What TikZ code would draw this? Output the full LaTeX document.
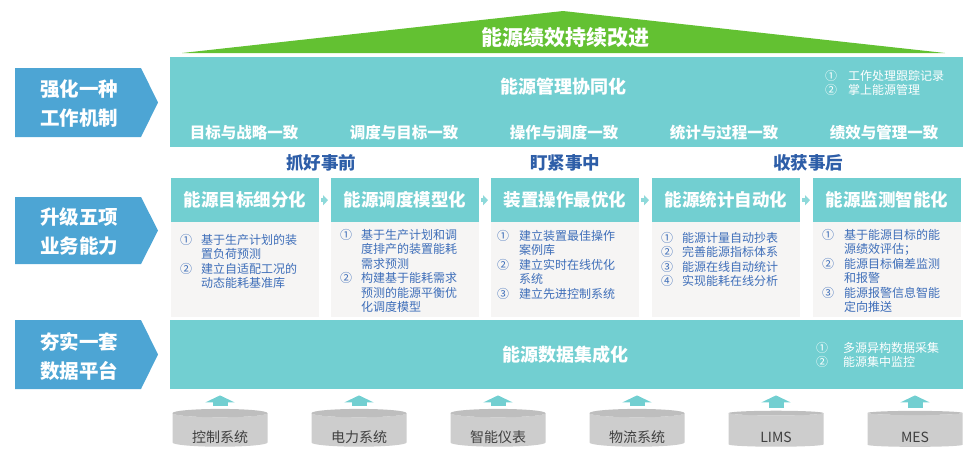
\documentclass[tikz,border=0pt]{standalone}
\usepackage{fontspec}
\setmainfont{Noto Sans CJK SC}
\definecolor{mintteal}{RGB}{114,207,209}
\definecolor{skyblue}{RGB}{77,165,212}
\definecolor{leafgreen}{RGB}{99,193,50}
\definecolor{stagenavy}{RGB}{46,94,168}
\definecolor{itemblue}{RGB}{62,110,185}
\definecolor{paper}{RGB}{246,245,244}
\definecolor{drumside}{RGB}{205,205,205}
\definecolor{drumtop}{RGB}{190,190,190}
\definecolor{drumtext}{RGB}{64,64,64}
\usetikzlibrary{arrows.meta, positioning, calc, shapes.geometric}

\begin{document}
\begin{tikzpicture}[
  x=1pt, y=-1pt,
  tbox/.style={fill=mintteal, inner sep=0pt, anchor=north west},
  hdbox/.style={fill=mintteal, inner sep=0pt, anchor=north west, minimum width=148pt, minimum height=44pt, text=white, font=\fontsize{17.5}{20}\selectfont\bfseries},
  bodybox/.style={fill=paper, inner sep=0pt, anchor=north west, minimum width=148pt, minimum height=95pt},
  itemtxt/.style={inner sep=0pt, anchor=north west, text=itemblue, font=\fontsize{12}{14.5}\selectfont},
  wlist/.style={inner sep=0pt, anchor=north west, text=white, font=\fontsize{12}{14.5}\selectfont},
  boxtitle/.style={text=white, font=\fontsize{18}{20}\selectfont\bfseries},
  subtitle/.style={text=white, font=\fontsize{15.5}{18}\selectfont\bfseries},
  stage/.style={text=stagenavy, font=\fontsize{17.5}{20}\selectfont\bfseries},
  sidetxt/.style={text=white, align=center, font=\fontsize{19.5}{29}\selectfont\bfseries},
  rooftxt/.style={text=white, font=\fontsize{21}{24}\selectfont\bfseries},
  chev/.style={draw=mintteal!80, line width=4pt, -{Triangle[width=10pt,length=5pt]}, shorten <=2pt, shorten >=3pt},
  uparr/.style={draw=mintteal, line width=15pt, -{Triangle[width=29pt,length=7pt]}, shorten <=3pt, shorten >=6pt},
  drum/.style={cylinder, shape border rotate=90, aspect=0.15, minimum width=95pt, minimum height=36pt, cylinder uses custom fill, cylinder body fill=drumside, cylinder end fill=drumtop, inner sep=0pt, text height=25pt, text depth=0pt, text=drumtext, font=\fontsize{14}{16}\selectfont}
]
\useasboundingbox (0,0) rectangle (979,459);

% roof
\fill[leafgreen] (182,53) -- (563,11) -- (945,53) -- cycle;
\node[rooftxt] (roof) at (565,38) {能源绩效持续改进};

% left labels
\foreach \yt/\yb/\txt [count=\i] in {68/137/{强化一种\\工作机制}, 197/264/{升级五项\\业务能力}, 320/389/{夯实一套\\数据平台}} {
  \fill[skyblue] (15,\yt) -- (141,\yt) -- (158,{(\yt+\yb)/2}) -- (141,\yb) -- (15,\yb) -- cycle;
  \node[sidetxt] (side\i) at (79,{(\yt+\yb)/2+1.5}) {\txt};
}

% management layer
\node[tbox, minimum width=793pt, minimum height=90pt] (mgmt) at (170,57) {};
\node[boxtitle] (mgmtname) at (563,87) {能源管理协同化};
\node[wlist] (mgmtlist) at (825,70) {\begin{tabular}{@{}p{23pt}@{}l@{}}
① & 工作处理跟踪记录\\
② & 掌上能源管理
\end{tabular}};
\foreach \t [count=\i] in {目标与战略一致, 调度与目标一致, 操作与调度一致, 统计与过程一致, 绩效与管理一致}
  \node[subtitle] (aim\i) at ({84+160*\i},133) {\t};

% stages
\node[stage] (before) at (321,163) {抓好事前};
\node[stage] (during) at (565,163) {盯紧事中};
\node[stage] (after) at (808,163) {收获事后};

\foreach \x/\t [count=\i] in {171/能源目标细分化, 331/能源调度模型化, 491/装置操作最优化, 652/能源统计自动化, 813/能源监测智能化} {
  \node[bodybox] (bd\i) at (\x,222) {};
  \node[hdbox] (hd\i) at (\x,178) {\t};
}
\foreach \i/\j in {1/2, 2/3, 3/4, 4/5}
  \draw[chev] (hd\i.east) -- (hd\j.west);

\node[itemtxt] (items1) at (180,234) {\begin{tabular}{@{}p{21pt}@{}l@{}}
① & 基于生产计划的装\\
 & 置负荷预测\\
② & 建立自适配工况的\\
 & 动态能耗基准库
\end{tabular}};
\node[itemtxt] (items2) at (340,229) {\begin{tabular}{@{}p{21pt}@{}l@{}}
① & 基于生产计划和调\\
 & 度排产的装置能耗\\
 & 需求预测\\
② & 构建基于能耗需求\\
 & 预测的能源平衡优\\
 & 化调度模型
\end{tabular}};
\node[itemtxt] (items3) at (497,230) {\begin{tabular}{@{}p{22pt}@{}l@{}}
① & 建立装置最佳操作\\
 & 案例库\\
② & 建立实时在线优化\\
 & 系统\\
③ & 建立先进控制系统
\end{tabular}};
\node[itemtxt] (items4) at (661,232) {\begin{tabular}{@{}p{21pt}@{}l@{}}
① & 能源计量自动抄表\\
② & 完善能源指标体系\\
③ & 能源在线自动统计\\
④ & 实现能耗在线分析
\end{tabular}};
\node[itemtxt] (items5) at (822,229) {\begin{tabular}{@{}p{22pt}@{}l@{}}
① & 基于能源目标的能\\
 & 源绩效评估；\\
② & 能源目标偏差监测\\
 & 和报警\\
③ & 能源报警信息智能\\
 & 定向推送
\end{tabular}};

% data layer
\node[tbox, minimum width=793pt, minimum height=69pt] (data) at (170,320) {};
\node[boxtitle] (dataname) at (565,355) {能源数据集成化};
\node[wlist] (datalist) at (816,342) {\begin{tabular}{@{}p{27pt}@{}l@{}}
① & 多源异构数据采集\\
② & 能源集中监控
\end{tabular}};

% sources
\foreach \t [count=\i] in {控制系统, 电力系统, 智能仪表, 物流系统, LIMS, MES} {
  \node[drum] (src\i) at ({81+139*\i},430) {\t};
  \draw[uparr] (src\i.north) -- (src\i.north |- data.south);
}
\end{tikzpicture}
\end{document}
